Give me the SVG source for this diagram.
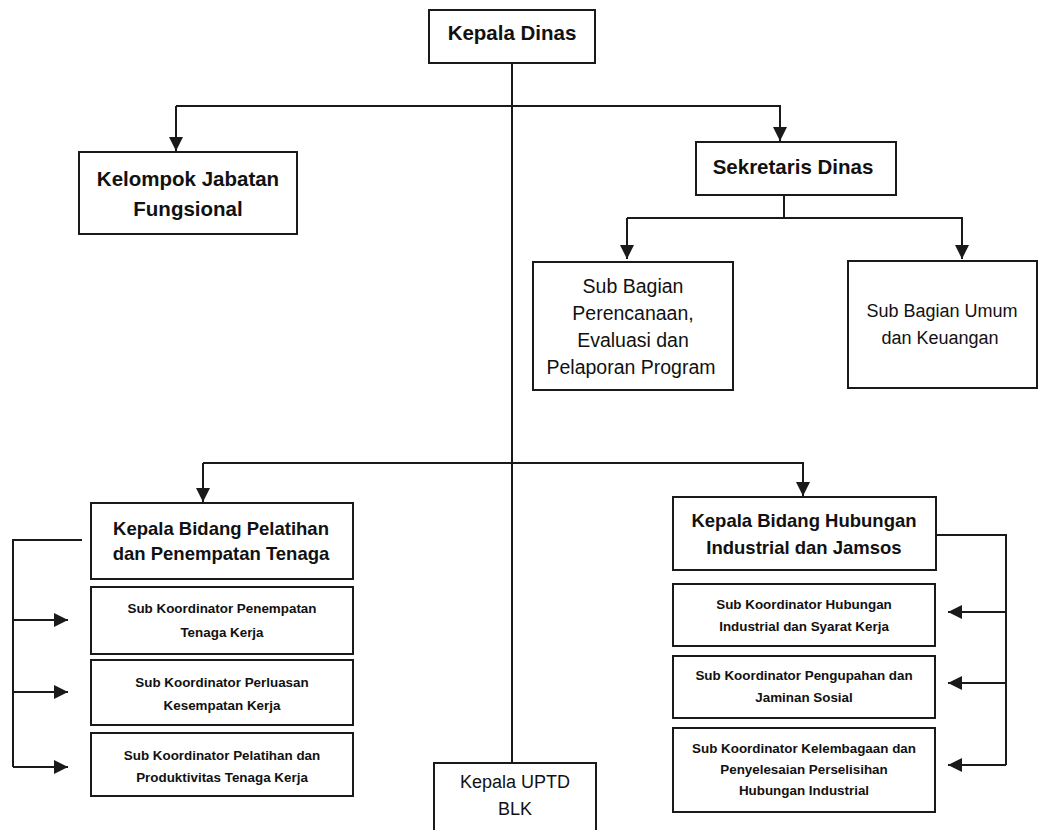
<svg xmlns="http://www.w3.org/2000/svg" width="1038" height="830" viewBox="0 0 1038 830">
<style>
.box{fill:#fff;stroke:#1a1a1a;stroke-width:2}
.ln{fill:none;stroke:#1a1a1a;stroke-width:2}
text{font-family:"Liberation Sans",Arial,sans-serif;fill:#111;text-anchor:middle;dominant-baseline:central}
.t{font-size:20.5px;font-weight:bold}
.h{font-size:18.5px;font-weight:bold}
.r{font-size:18px}
.rl{font-size:19.5px}
.s{font-size:13.4px;font-weight:bold}
</style>
<defs>
<marker id="ar" markerUnits="userSpaceOnUse" markerWidth="14" markerHeight="14" viewBox="0 0 14 14" refX="14" refY="7" orient="auto">
<path d="M0,0 L14,7 L0,14 Z" fill="#1a1a1a"/>
</marker>
</defs>
<g id="connectors">
<line class="ln" x1="512" y1="63" x2="512" y2="763"/>
<path class="ln" d="M176,106 H780 V141" marker-end="url(#ar)"/>
<path class="ln" d="M176,106 V151" marker-end="url(#ar)"/>
<path class="ln" d="M784,195 V218"/>
<path class="ln" d="M627,218 H962 V259" marker-end="url(#ar)"/>
<path class="ln" d="M627,218 V259" marker-end="url(#ar)"/>
<path class="ln" d="M203,463 H803 V496" marker-end="url(#ar)"/>
<path class="ln" d="M203,463 V502" marker-end="url(#ar)"/>
<path class="ln" d="M82,540 H13 V767"/>
<path class="ln" d="M13,620 H68" marker-end="url(#ar)"/>
<path class="ln" d="M13,692 H68" marker-end="url(#ar)"/>
<path class="ln" d="M13,767 H68" marker-end="url(#ar)"/>
<path class="ln" d="M936,535 H1006 V765"/>
<path class="ln" d="M1006,612 H948" marker-end="url(#ar)"/>
<path class="ln" d="M1006,683 H948" marker-end="url(#ar)"/>
<path class="ln" d="M1006,765 H948" marker-end="url(#ar)"/>
</g>
<g id="kepala-dinas"><rect class="box" x="429" y="10" width="166" height="53"/><text class="t" x="512" y="32">Kepala Dinas</text></g>
<g id="kelompok"><rect class="box" x="79" y="152" width="218" height="82"/><text class="t" x="188" y="178">Kelompok Jabatan</text><text class="t" x="188" y="208">Fungsional</text></g>
<g id="sekretaris"><rect class="box" x="696" y="142" width="200" height="53"/><text class="t" x="793" y="166">Sekretaris Dinas</text></g>
<g id="sub-perencanaan"><rect class="box" x="533" y="262" width="200" height="128"/><text class="rl" x="633" y="286">Sub Bagian</text><text class="rl" x="633" y="313">Perencanaan,</text><text class="rl" x="633" y="340">Evaluasi dan</text><text class="rl" x="631" y="367">Pelaporan Program</text></g>
<g id="sub-umum"><rect class="box" x="848" y="261" width="189" height="127"/><text class="r" x="942" y="311">Sub Bagian Umum</text><text class="r" x="940" y="338">dan Keuangan</text></g>
<g id="kabid-pelatihan"><rect class="box" x="91" y="503" width="262" height="76"/><text class="h" x="221" y="528">Kepala Bidang Pelatihan</text><text class="h" x="221" y="553">dan Penempatan Tenaga</text></g>
<g id="sk-penempatan"><rect class="box" x="91" y="587" width="262" height="67"/><text class="s" x="222" y="608">Sub Koordinator Penempatan</text><text class="s" x="222" y="632">Tenaga Kerja</text></g>
<g id="sk-perluasan"><rect class="box" x="91" y="660" width="262" height="65"/><text class="s" x="222" y="682">Sub Koordinator Perluasan</text><text class="s" x="222" y="705">Kesempatan Kerja</text></g>
<g id="sk-pelatihan"><rect class="box" x="91" y="733" width="262" height="63"/><text class="s" x="222" y="755">Sub Koordinator Pelatihan dan</text><text class="s" x="222" y="777">Produktivitas Tenaga Kerja</text></g>
<g id="kabid-hubungan"><rect class="box" x="673" y="497" width="263" height="73"/><text class="h" x="804" y="520">Kepala Bidang Hubungan</text><text class="h" x="804" y="547">Industrial dan Jamsos</text></g>
<g id="sk-hi"><rect class="box" x="673" y="584" width="262" height="62"/><text class="s" x="804" y="604">Sub Koordinator Hubungan</text><text class="s" x="804" y="626">Industrial dan Syarat Kerja</text></g>
<g id="sk-pengupahan"><rect class="box" x="673" y="656" width="262" height="62"/><text class="s" x="804" y="675">Sub Koordinator Pengupahan dan</text><text class="s" x="804" y="697">Jaminan Sosial</text></g>
<g id="sk-kelembagaan"><rect class="box" x="673" y="728" width="262" height="84"/><text class="s" x="804" y="748">Sub Koordinator Kelembagaan dan</text><text class="s" x="804" y="769">Penyelesaian Perselisihan</text><text class="s" x="804" y="790">Hubungan Industrial</text></g>
<g id="uptd"><rect class="box" x="434" y="763" width="162" height="80"/><text class="r" x="515" y="782">Kepala UPTD</text><text class="r" x="515" y="809">BLK</text></g>
</svg>
